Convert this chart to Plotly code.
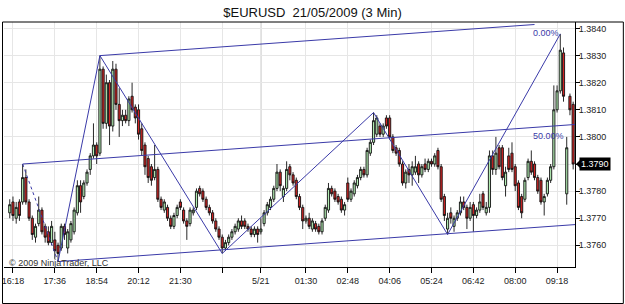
import plotly.graph_objects as go

# ---- data ----
bars = list(range(2, 178))  # bar index on the chart's bar axis

opens = [
    1.3772, 1.3776, 1.3770, 1.3776, 1.3776, 1.3785, 1.3776, 1.3770, 1.3763, 1.3768,
    1.3773, 1.3767, 1.3765, 1.3761, 1.3762, 1.3760, 1.3759, 1.3767, 1.3759, 1.3762,
    1.3765, 1.3772, 1.3782, 1.3778, 1.3783, 1.3788, 1.3793, 1.3797, 1.3794, 1.3825,
    1.3805, 1.3820, 1.3804, 1.3825, 1.3812, 1.3806, 1.3808, 1.3806, 1.3815, 1.3811,
    1.3810, 1.3803, 1.3797, 1.3792, 1.3789, 1.3785, 1.3788, 1.3777, 1.3773, 1.3774,
    1.3770, 1.3767, 1.3771, 1.3776, 1.3773, 1.3769, 1.3768, 1.3772, 1.3774, 1.3781,
    1.3780, 1.3777, 1.3774, 1.3772, 1.3769, 1.3766, 1.3763, 1.3759, 1.3761, 1.3763,
    1.3765, 1.3766, 1.3769, 1.3769, 1.3767, 1.3766, 1.3764, 1.3766, 1.3765, 1.3768,
    1.3772, 1.3774, 1.3777, 1.3781, 1.3787, 1.3778, 1.3781, 1.3789, 1.3786, 1.3784,
    1.3778, 1.3774, 1.3769, 1.3770, 1.3766, 1.3768, 1.3767, 1.3765, 1.3770, 1.3773,
    1.3781, 1.3780, 1.3778, 1.3777, 1.3773, 1.3783, 1.3777, 1.3779, 1.3782, 1.3785,
    1.3788, 1.3786, 1.3794, 1.3798, 1.3801, 1.3804, 1.3801, 1.3807, 1.3807, 1.3800,
    1.3796, 1.3795, 1.3790, 1.3783, 1.3788, 1.3786, 1.3787, 1.3790, 1.3786, 1.3790,
    1.3788, 1.3791, 1.3790, 1.3795, 1.3789, 1.3778, 1.3766, 1.3772, 1.3767, 1.3770,
    1.3772, 1.3776, 1.3774, 1.3770, 1.3775, 1.3771, 1.3773, 1.3779, 1.3772, 1.3774,
    1.3793, 1.3788, 1.3796, 1.3796, 1.3782, 1.3793, 1.3794, 1.3789, 1.3783, 1.3778,
    1.3777, 1.3785, 1.3791, 1.3790, 1.3785, 1.3784, 1.3776, 1.3779, 1.3784, 1.3789,
    1.3810, 1.3817, 1.3831, 1.3779, 1.3815, 1.3812,
]
highs = [
    1.3777, 1.3778, 1.3776, 1.3777, 1.3790, 1.3788, 1.3777, 1.3771, 1.3768, 1.3778,
    1.3774, 1.3768, 1.3767, 1.3769, 1.3765, 1.3761, 1.3768, 1.3768, 1.3766, 1.3769,
    1.3774, 1.3784, 1.3784, 1.3784, 1.3788, 1.3794, 1.3805, 1.3798, 1.3830, 1.3826,
    1.3823, 1.3821, 1.3828, 1.3827, 1.3818, 1.3810, 1.3810, 1.3815, 1.3820, 1.3812,
    1.3812, 1.3805, 1.3798, 1.3793, 1.3790, 1.3797, 1.3789, 1.3778, 1.3777, 1.3775,
    1.3771, 1.3772, 1.3775, 1.3777, 1.3774, 1.3770, 1.3774, 1.3774, 1.3781, 1.3782,
    1.3781, 1.3778, 1.3775, 1.3773, 1.3770, 1.3767, 1.3764, 1.3762, 1.3764, 1.3766,
    1.3768, 1.3770, 1.3771, 1.3770, 1.3768, 1.3767, 1.3767, 1.3767, 1.3770, 1.3773,
    1.3776, 1.3778, 1.3782, 1.3790, 1.3788, 1.3782, 1.3791, 1.3790, 1.3787, 1.3785,
    1.3779, 1.3775, 1.3771, 1.3772, 1.3770, 1.3769, 1.3768, 1.3770, 1.3775, 1.3783,
    1.3782, 1.3781, 1.3779, 1.3778, 1.3776, 1.3785, 1.3781, 1.3784, 1.3786, 1.3789,
    1.3789, 1.3796, 1.3799, 1.3809, 1.3808, 1.3805, 1.3805, 1.3808, 1.3808, 1.3801,
    1.3797, 1.3796, 1.3791, 1.3788, 1.3790, 1.3791, 1.3793, 1.3791, 1.3790, 1.3792,
    1.3792, 1.3792, 1.3794, 1.3796, 1.3790, 1.3779, 1.3772, 1.3774, 1.3771, 1.3773,
    1.3778, 1.3778, 1.3775, 1.3776, 1.3776, 1.3774, 1.3779, 1.3780, 1.3776, 1.3795,
    1.3795, 1.3800, 1.3797, 1.3797, 1.3789, 1.3796, 1.3798, 1.3790, 1.3784, 1.3779,
    1.3785, 1.3792, 1.3795, 1.3791, 1.3786, 1.3785, 1.3779, 1.3785, 1.3790, 1.3819,
    1.3819, 1.3838, 1.3833, 1.3800, 1.3816, 1.3813,
]
lows = [
    1.3770, 1.3769, 1.3768, 1.3769, 1.3775, 1.3775, 1.3769, 1.3762, 1.3761, 1.3767,
    1.3764, 1.3761, 1.3760, 1.3760, 1.3755, 1.3754, 1.3758, 1.3762, 1.3757, 1.3761,
    1.3764, 1.3771, 1.3772, 1.3777, 1.3782, 1.3786, 1.3792, 1.3790, 1.3793, 1.3803,
    1.3803, 1.3797, 1.3802, 1.3810, 1.3800, 1.3804, 1.3805, 1.3804, 1.3809, 1.3805,
    1.3799, 1.3793, 1.3786, 1.3783, 1.3782, 1.3784, 1.3776, 1.3773, 1.3772, 1.3769,
    1.3766, 1.3766, 1.3770, 1.3773, 1.3768, 1.3762, 1.3767, 1.3771, 1.3773, 1.3778,
    1.3776, 1.3773, 1.3771, 1.3768, 1.3765, 1.3762, 1.3757, 1.3758, 1.3760, 1.3762,
    1.3764, 1.3765, 1.3766, 1.3766, 1.3765, 1.3763, 1.3763, 1.3761, 1.3764, 1.3767,
    1.3771, 1.3773, 1.3776, 1.3780, 1.3780, 1.3776, 1.3780, 1.3784, 1.3782, 1.3777,
    1.3773, 1.3766, 1.3768, 1.3766, 1.3765, 1.3765, 1.3764, 1.3764, 1.3769, 1.3772,
    1.3778, 1.3776, 1.3775, 1.3772, 1.3771, 1.3776, 1.3776, 1.3778, 1.3781, 1.3784,
    1.3785, 1.3785, 1.3793, 1.3797, 1.3800, 1.3800, 1.3800, 1.3803, 1.3799, 1.3794,
    1.3793, 1.3789, 1.3782, 1.3781, 1.3783, 1.3782, 1.3786, 1.3783, 1.3785, 1.3787,
    1.3787, 1.3789, 1.3789, 1.3788, 1.3776, 1.3769, 1.3764, 1.3768, 1.3765, 1.3769,
    1.3771, 1.3773, 1.3766, 1.3769, 1.3765, 1.3770, 1.3772, 1.3773, 1.3771, 1.3772,
    1.3786, 1.3786, 1.3788, 1.3784, 1.3778, 1.3787, 1.3787, 1.3780, 1.3773, 1.3770,
    1.3776, 1.3784, 1.3786, 1.3784, 1.3779, 1.3775, 1.3771, 1.3778, 1.3783, 1.3788,
    1.3809, 1.3816, 1.3813, 1.3775, 1.3808, 1.3788,
]
closes = [
    1.3775, 1.3771, 1.3774, 1.3771, 1.3785, 1.3776, 1.3770, 1.3764, 1.3767, 1.3773,
    1.3765, 1.3763, 1.3761, 1.3767, 1.3758, 1.3757, 1.3767, 1.3764, 1.3765, 1.3768,
    1.3773, 1.3782, 1.3776, 1.3783, 1.3787, 1.3793, 1.3797, 1.3793, 1.3825, 1.3805,
    1.3820, 1.3804, 1.3825, 1.3812, 1.3806, 1.3808, 1.3806, 1.3814, 1.3810, 1.3807,
    1.3801, 1.3795, 1.3789, 1.3785, 1.3784, 1.3788, 1.3777, 1.3774, 1.3776, 1.3770,
    1.3767, 1.3771, 1.3774, 1.3774, 1.3769, 1.3767, 1.3773, 1.3773, 1.3780, 1.3779,
    1.3777, 1.3774, 1.3772, 1.3769, 1.3766, 1.3763, 1.3759, 1.3761, 1.3763, 1.3765,
    1.3767, 1.3769, 1.3767, 1.3767, 1.3766, 1.3764, 1.3766, 1.3764, 1.3766, 1.3772,
    1.3775, 1.3777, 1.3781, 1.3787, 1.3782, 1.3781, 1.3788, 1.3786, 1.3783, 1.3778,
    1.3774, 1.3769, 1.3770, 1.3767, 1.3769, 1.3766, 1.3765, 1.3769, 1.3774, 1.3781,
    1.3779, 1.3777, 1.3776, 1.3773, 1.3775, 1.3777, 1.3780, 1.3783, 1.3785, 1.3788,
    1.3786, 1.3795, 1.3798, 1.3806, 1.3807, 1.3801, 1.3804, 1.3804, 1.3800, 1.3795,
    1.3794, 1.3790, 1.3783, 1.3787, 1.3786, 1.3789, 1.3789, 1.3786, 1.3789, 1.3788,
    1.3791, 1.3790, 1.3793, 1.3789, 1.3777, 1.3771, 1.3770, 1.3770, 1.3770, 1.3772,
    1.3776, 1.3774, 1.3770, 1.3774, 1.3771, 1.3773, 1.3776, 1.3774, 1.3774, 1.3793,
    1.3788, 1.3794, 1.3789, 1.3785, 1.3787, 1.3788, 1.3788, 1.3782, 1.3774, 1.3772,
    1.3784, 1.3791, 1.3787, 1.3785, 1.3780, 1.3776, 1.3778, 1.3784, 1.3789, 1.3810,
    1.3817, 1.3832, 1.3815, 1.3796, 1.3810, 1.3790,
]

tick_bars = [3, 16, 29, 42, 55, 68, 80, 94, 107, 120, 133, 146, 159, 172]
tick_labels = ["16:18", "17:36", "18:54", "20:12", "21:30", "", "5/21",
               "01:30", "02:48", "04:06", "05:24", "06:42", "08:00", "09:18"]
day_break_bar = 80

price_ticks = [1.3760, 1.3770, 1.3780, 1.3790, 1.3800, 1.3810, 1.3820, 1.3830, 1.3840]
last_price = 1.3790

# zigzag pivots (bar, price)
zz_bars = [17, 30, 68, 115, 138, 173]
zz_prices = [1.3754, 1.3830, 1.3757, 1.3809, 1.3764, 1.3838]

# channel anchors (bar, price) and common slope (price per bar)
channel_slope = 0.0000085
upper_anchor = (30, 1.3830)
upper_end_bar = 165
mid_anchor = (6, 1.3790)
low_anchor = (17, 1.3754)
channel_end_bar = 182
label_bar = 164

BLUE = "#3a3aa8"
FONT = "Liberation Sans, Arial, sans-serif"


def line_at(anchor, b):
    return anchor[1] + channel_slope * (b - anchor[0])


fig = go.Figure()

# channel lines
fig.add_trace(go.Scatter(
    x=[upper_anchor[0], upper_end_bar],
    y=[upper_anchor[1], line_at(upper_anchor, upper_end_bar)],
    mode="lines", line=dict(color=BLUE, width=1), hoverinfo="skip"))
fig.add_trace(go.Scatter(
    x=[mid_anchor[0], channel_end_bar],
    y=[mid_anchor[1], line_at(mid_anchor, channel_end_bar)],
    mode="lines", line=dict(color=BLUE, width=1), hoverinfo="skip"))
fig.add_trace(go.Scatter(
    x=[low_anchor[0], channel_end_bar],
    y=[low_anchor[1], line_at(low_anchor, channel_end_bar)],
    mode="lines", line=dict(color=BLUE, width=1), hoverinfo="skip"))
# handle (dotted)
fig.add_trace(go.Scatter(
    x=[mid_anchor[0], low_anchor[0]], y=[mid_anchor[1], low_anchor[1]],
    mode="lines", line=dict(color=BLUE, width=1, dash="dot"), hoverinfo="skip"))

# candles
fig.add_trace(go.Candlestick(
    x=bars, open=opens, high=highs, low=lows, close=closes,
    increasing=dict(line=dict(color="#111111", width=0.9), fillcolor="#b2ecb2"),
    decreasing=dict(line=dict(color="#111111", width=0.9), fillcolor="#d02424"),
    whiskerwidth=0, hoverinfo="skip"))

# zigzag
fig.add_trace(go.Scatter(
    x=zz_bars, y=zz_prices, mode="lines",
    line=dict(color=BLUE, width=1), hoverinfo="skip"))

annotations = [
    dict(x=label_bar, y=line_at(upper_anchor, label_bar), xref="x", yref="y",
         text="0.00%", showarrow=False, xanchor="left", yanchor="top", yshift=-1,
         font=dict(family=FONT, size=9, color=BLUE)),
    dict(x=label_bar, y=line_at(mid_anchor, label_bar), xref="x", yref="y",
         text="50.00%", showarrow=False, xanchor="left", yanchor="top", yshift=-1,
         font=dict(family=FONT, size=9, color=BLUE)),
    dict(x=0.005, y=0.016, xref="paper", yref="paper", text="© 2009 NinjaTrader, LLC",
         showarrow=False, xanchor="left", yanchor="middle",
         font=dict(family=FONT, size=9, color="#333333")),
    dict(x=1, y=last_price, xref="paper", yref="y", text="%.4f" % last_price,
         showarrow=False, xanchor="left", yanchor="middle", xshift=4,
         bgcolor="black", borderpad=1,
         font=dict(family=FONT, size=9, color="white")),
]

shapes = [
    dict(type="line", xref="x", yref="paper", x0=day_break_bar, x1=day_break_bar,
         y0=0, y1=1, line=dict(color="#a8a8a8", width=1), layer="below"),
    dict(type="path", xref="paper", yref="y", xsizemode="pixel", xanchor=1,
         ysizemode="pixel", yanchor=last_price,
         path="M 1,0 L 6,5 L 6,-5 Z", fillcolor="black", line=dict(width=0)),
    dict(type="rect", xref="paper", yref="paper",
         x0=-1.5 / 573, x1=621.5 / 573, y0=-36.5 / 245, y1=1,
         line=dict(color="black", width=1), fillcolor="rgba(0,0,0,0)"),
]

fig.update_layout(
    width=625, height=304,
    margin=dict(l=2, r=50, t=22, b=37),
    paper_bgcolor="white", plot_bgcolor="white",
    showlegend=False,
    boxgap=0.05,
    font=dict(family=FONT, size=9, color="#222222"),
    title=dict(text="$EURUSD\u00a0 21/05/2009 (3 Min)", xref="container", x=0.5,
               y=1 - 12 / 304, xanchor="center", yanchor="middle",
               font=dict(family=FONT, size=13, color="#111111")),
    annotations=annotations,
    shapes=shapes,
    hovermode=False,
)
fig.update_xaxes(
    range=[0.214, 177.57], rangeslider=dict(visible=False),
    tickmode="array", tickvals=tick_bars, ticktext=tick_labels,
    ticks="outside", ticklen=5, tickcolor="black",
    ticklabeloverflow="allow",
    showline=True, linecolor="black", linewidth=1,
    showgrid=True, gridcolor="#e6e6e6", gridwidth=1, zeroline=False,
    tickfont=dict(family=FONT, size=9, color="#222222"),
)
fig.update_yaxes(
    side="right", range=[1.37520, 1.38424],
    tickmode="array", tickvals=price_ticks,
    # the last-price box covers the 1.3790 level, so that tick carries no text
    ticktext=["" if v == last_price else "%.4f" % v for v in price_ticks],
    ticks="outside", ticklen=4, tickcolor="black",
    ticklabelstandoff=-3,
    showline=True, linecolor="black", linewidth=1,
    showgrid=True, gridcolor="#e6e6e6", gridwidth=1, zeroline=False,
    tickfont=dict(family=FONT, size=9, color="#222222"),
)

fig.write_html("out.html")
